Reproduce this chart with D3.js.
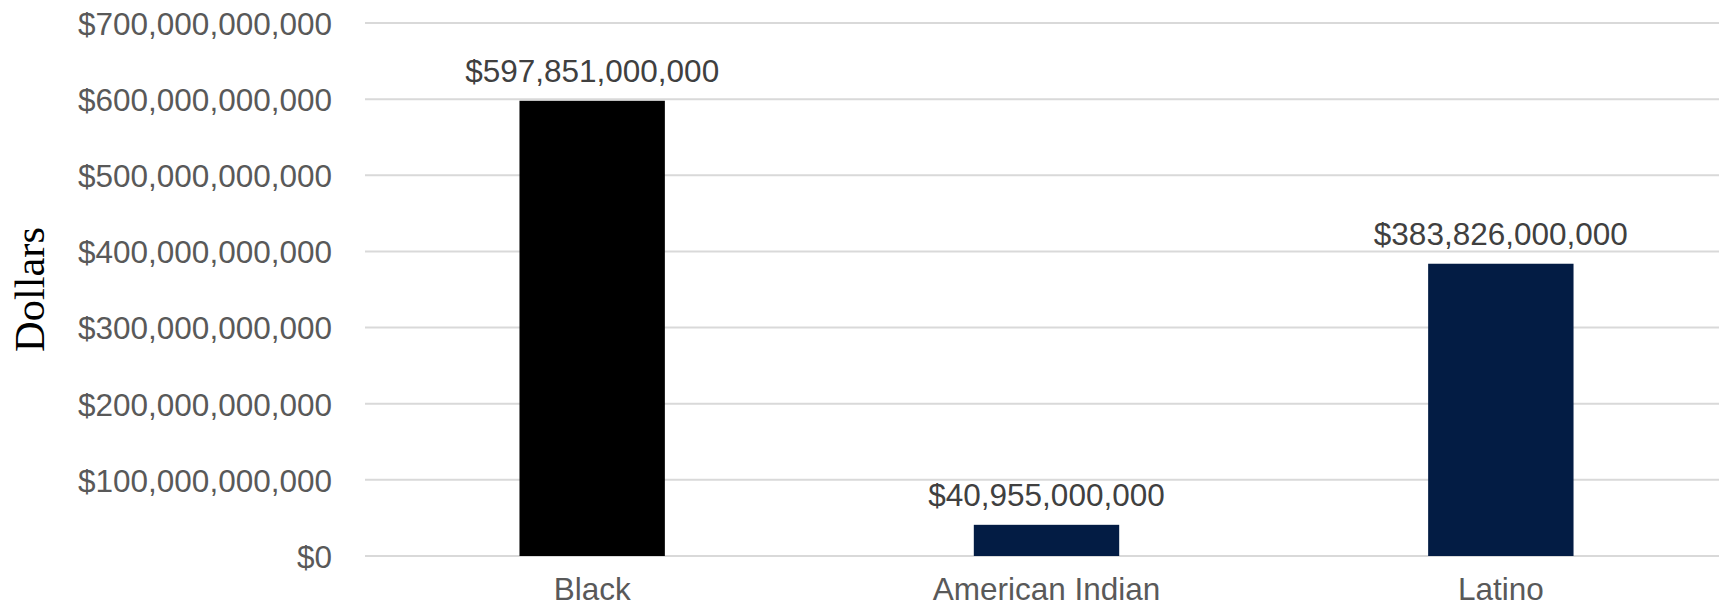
<!DOCTYPE html>
<html>
<head>
<meta charset="utf-8">
<script src="https://cdn.jsdelivr.net/npm/d3@7"></script>
<style>
  html, body { margin: 0; padding: 0; background: #fff; }
  svg { display: block; }
</style>
</head>
<body>
<svg id="chart" width="1719" height="607"></svg>
<script>
// Economic figures by group, in dollars
const categories = ["Black", "American Indian", "Latino"];
const values = [597851000000, 40955000000, 383826000000];
const barColors = ["#000000", "#031c44", "#031c44"];
const yTicks = [0, 100e9, 200e9, 300e9, 400e9, 500e9, 600e9, 700e9];
const yTitle = "Dollars";

const W = 1719, H = 607;
const plot = { left: 365, right: 1728, top: 23, bottom: 556 };

const svg = d3.select("#chart");

const x = d3.scaleBand()
  .domain(categories)
  .range([plot.left, plot.right])
  .paddingInner(0.68)
  .paddingOuter(0.34);

const y = d3.scaleLinear()
  .domain([0, 700e9])
  .range([plot.bottom, plot.top]);

const money = v => "$" + d3.format(",")(v);

// Horizontal gridlines
svg.append("g")
  .selectAll("line")
  .data(yTicks)
  .join("line")
  .attr("x1", plot.left)
  .attr("x2", W)
  .attr("y1", d => y(d))
  .attr("y2", d => y(d))
  .attr("stroke", "#d9d9d9")
  .attr("stroke-width", 2);

// Y axis labels
const yAxis = d3.axisLeft(y)
  .tickValues(yTicks)
  .tickFormat(money)
  .tickSize(0)
  .tickPadding(0);

const yAxisG = svg.append("g")
  .attr("transform", `translate(332,0)`)
  .call(yAxis);
yAxisG.select(".domain").remove();
yAxisG.selectAll("text")
  .attr("font-family", "'Liberation Sans', Arial, sans-serif")
  .attr("font-size", 31.5)
  .attr("fill", "#595959")
  .attr("dy", "0.36em");

// Bars
svg.append("g")
  .selectAll("rect")
  .data(categories)
  .join("rect")
  .attr("x", d => x(d))
  .attr("width", x.bandwidth())
  .attr("y", (d, i) => y(values[i]))
  .attr("height", (d, i) => y(0) - y(values[i]))
  .attr("fill", (d, i) => barColors[i]);

// Value labels above bars
svg.append("g")
  .selectAll("text")
  .data(categories)
  .join("text")
  .attr("x", d => x(d) + x.bandwidth() / 2)
  .attr("y", (d, i) => y(values[i]) - 19)
  .attr("text-anchor", "middle")
  .attr("font-family", "'Liberation Sans', Arial, sans-serif")
  .attr("font-size", 31.5)
  .attr("fill", "#404040")
  .text((d, i) => money(values[i]));

// Category axis labels
const xAxis = d3.axisBottom(x).tickSize(0).tickPadding(0);
const xAxisG = svg.append("g")
  .attr("transform", `translate(0,${plot.bottom})`)
  .call(xAxis);
xAxisG.select(".domain").remove();
xAxisG.selectAll("text")
  .attr("font-family", "'Liberation Sans', Arial, sans-serif")
  .attr("font-size", 31.5)
  .attr("fill", "#595959")
  .attr("dy", null)
  .attr("y", 44);

// Y axis title
svg.append("text")
  .attr("transform", `translate(44,${(plot.top + plot.bottom) / 2}) rotate(-90)`)
  .attr("text-anchor", "middle")
  .attr("font-family", "'Liberation Serif', 'Times New Roman', serif")
  .attr("font-size", 42.5)
  .attr("fill", "#000")
  .text(yTitle);
</script>
</body>
</html>
